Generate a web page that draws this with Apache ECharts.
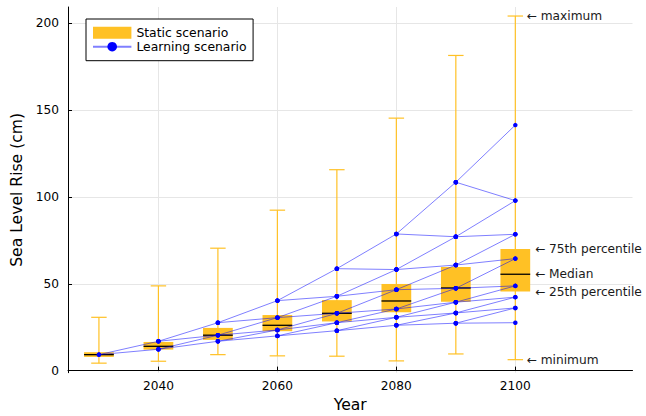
<!DOCTYPE html>
<html>
<head>
<meta charset="utf-8">
<script src="https://cdn.jsdelivr.net/npm/echarts@6/dist/echarts.min.js"></script>
<style>
  html, body { margin: 0; padding: 0; background: #ffffff; }
  #chart { width: 646px; height: 416px; }
</style>
</head>
<body>
<div id="chart"></div>
<script>
// Projection years
const years = [2030, 2040, 2050, 2060, 2070, 2080, 2090, 2100];

// Static scenario: five-number summary per year (cm)
const staticMin    = [4.3, 5.4, 9.2, 8.5, 8.3, 5.6, 9.6, 6.3];
const staticQ1     = [7.9, 12.1, 17.7, 22.7, 28.3, 33.6, 39.6, 45.5];
const staticMedian = [9.2, 14.0, 20.4, 26.1, 33.0, 40.1, 47.6, 55.5];
const staticQ3     = [10.6, 16.5, 24.6, 32.0, 40.6, 49.9, 59.7, 70.1];
const staticMax    = [30.7, 48.8, 70.5, 92.4, 115.7, 145.4, 181.5, 204.2];

// Learning scenario: recombining tree, node values per year (highest first).
// Node i of one year links to nodes i and i+1 of the next year.
const learningNodes = [
  [9.2],
  [16.9, 12.3],
  [27.6, 20.4, 16.9],
  [40.3, 30.5, 23.4, 20.0],
  [58.7, 42.8, 33.0, 27.6, 23.0],
  [78.7, 58.2, 46.6, 35.5, 30.7, 26.1],
  [108.5, 77.1, 60.8, 47.4, 39.4, 33.2, 27.3],
  [141.4, 97.9, 78.5, 64.5, 48.8, 42.3, 36.1, 27.6]
];

// Axis ticks
const xTicks = [2040, 2060, 2080, 2100];
const yTicks = [0, 50, 100, 150, 200];

// Notes explaining the 2100 box
const noteLabels = ['← maximum', '← 75th percentile', '← Median', '← 25th percentile', '← minimum'];

const ORANGE = '#FFC125';
const FONT = 'DejaVu Sans';
const BOX_HALF = 2.5;   // years
const CAP_HALF = 1.3;   // years

const boxData = years.map((y, i) => [y, staticMin[i], staticQ1[i], staticMedian[i], staticQ3[i], staticMax[i]]);

// Tree edges as one broken polyline
const edgeData = [];
for (let n = 0; n < learningNodes.length - 1; n++) {
  const cur = learningNodes[n], nxt = learningNodes[n + 1];
  cur.forEach((v, i) => {
    [i, i + 1].forEach(j => {
      edgeData.push([years[n], v]);
      edgeData.push([years[n + 1], nxt[j]]);
      edgeData.push([years[n + 1], '-']);
    });
  });
}

// Note anchors beside the last box
const last = years.length - 1;
const noteData = [
  [years[last] + 1.9, staticMax[last], 0],
  [years[last] + 3.3, staticQ3[last], 1],
  [years[last] + 3.3, staticMedian[last], 2],
  [years[last] + 3.3, staticQ1[last], 3],
  [years[last] + 1.9, staticMin[last], 4]
];

const chart = echarts.init(document.getElementById('chart'), null, { renderer: 'svg' });

chart.setOption({
  animation: false,
  backgroundColor: '#ffffff',
  textStyle: { fontFamily: FONT },
  grid: { left: 68, right: 13.5, top: 7, bottom: 43.3, containLabel: false, outerBoundsMode: 'none' },
  legend: {
    left: 86, top: 19,
    orient: 'vertical',
    itemWidth: 38.4, itemHeight: 12, itemGap: 0,
    padding: [6.7, 6.5, 7, 6],
    borderColor: '#000', borderWidth: 1, backgroundColor: '#fff',
    textStyle: { fontFamily: FONT, fontSize: 12.4, color: '#000', lineHeight: 14 },
    data: [{ name: 'Static scenario', icon: 'rect' }, { name: 'Learning scenario' }]
  },
  xAxis: {
    type: 'value',
    min: 2024.8, max: 2119.7,
    name: 'Year', nameLocation: 'middle', nameGap: 24,
    nameTextStyle: { fontFamily: FONT, fontSize: 15.6, color: '#000' },
    axisLine: { show: true, lineStyle: { color: '#000', width: 1 } },
    axisTick: { show: true, inside: true, length: 4, customValues: xTicks, lineStyle: { color: '#000' } },
    axisLabel: {
      customValues: xTicks, margin: 7, fontFamily: FONT, fontSize: 12.2, color: '#000',
      formatter: v => String(v)
    },
    splitLine: { show: true, lineStyle: { color: '#e6e6e6', width: 1 } }
  },
  yAxis: {
    type: 'value',
    min: -1.2, max: 209.4,
    name: 'Sea Level Rise (cm)', nameLocation: 'middle', nameGap: 41,
    nameTextStyle: { fontFamily: FONT, fontSize: 15.6, color: '#000' },
    axisLine: { show: true, lineStyle: { color: '#000', width: 1 } },
    axisTick: { show: true, inside: true, length: 4, customValues: yTicks, lineStyle: { color: '#000' } },
    axisLabel: {
      customValues: yTicks, margin: 9, fontFamily: FONT, fontSize: 12.2, color: '#000',
      formatter: v => String(v)
    },
    splitLine: { show: true, lineStyle: { color: '#e6e6e6', width: 1 } }
  },
  series: [
    {
      name: 'Static scenario',
      type: 'custom',
      itemStyle: { color: ORANGE },
      encode: { x: 0, y: [1, 2, 3, 4, 5] },
      data: boxData,
      z: 2,
      renderItem: function (params, api) {
        const x = api.value(0);
        const pMin = api.coord([x, api.value(1)]);
        const pQ1 = api.coord([x, api.value(2)]);
        const pMed = api.coord([x, api.value(3)]);
        const pQ3 = api.coord([x, api.value(4)]);
        const pMax = api.coord([x, api.value(5)]);
        const half = api.size([BOX_HALF, 0])[0];
        const cap = api.size([CAP_HALF, 0])[0];
        const cx = pMed[0];
        return {
          type: 'group',
          children: [
            { type: 'line', shape: { x1: cx, y1: pMin[1], x2: cx, y2: pMax[1] }, style: { stroke: ORANGE, lineWidth: 1.2 } },
            { type: 'line', shape: { x1: cx - cap, y1: pMin[1], x2: cx + cap, y2: pMin[1] }, style: { stroke: ORANGE, lineWidth: 1.2 } },
            { type: 'line', shape: { x1: cx - cap, y1: pMax[1], x2: cx + cap, y2: pMax[1] }, style: { stroke: ORANGE, lineWidth: 1.2 } },
            { type: 'rect', shape: { x: cx - half, y: pQ3[1], width: 2 * half, height: pQ1[1] - pQ3[1] }, style: { fill: ORANGE } },
            { type: 'line', shape: { x1: cx - half, y1: pMed[1], x2: cx + half, y2: pMed[1] }, style: { stroke: '#000', lineWidth: 1.3 } }
          ]
        };
      }
    },
    {
      name: 'Learning scenario',
      type: 'line',
      data: edgeData,
      connectNulls: false,
      symbol: 'circle',
      symbolSize: 4.5,
      showSymbol: true,
      itemStyle: { color: '#0000ff' },
      lineStyle: { color: 'rgba(0,0,255,0.5)', width: 1 },
      z: 3
    },
    {
      name: 'notes',
      type: 'custom',
      data: noteData,
      encode: { x: 0, y: 1 },
      z: 4,
      renderItem: function (params, api) {
        const p = api.coord([api.value(0), api.value(1)]);
        return {
          type: 'text',
          x: p[0], y: p[1],
          style: {
            text: noteLabels[api.value(2)],
            fontFamily: FONT, fontSize: 12.2, fill: '#1a1a1a',
            align: 'left', verticalAlign: 'middle'
          }
        };
      }
    }
  ]
});
</script>
</body>
</html>
